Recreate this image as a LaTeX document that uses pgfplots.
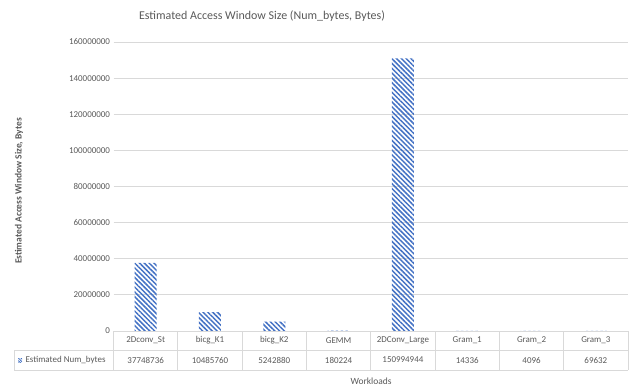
\documentclass[border=0pt]{standalone}
\usepackage{pgfplots}
\pgfplotsset{compat=1.18}
\usepackage{fontspec}
\setmainfont{Carlito}
\usetikzlibrary{patterns.meta}
\definecolor{barblue}{HTML}{4472C4}
\definecolor{txtgray}{HTML}{595959}
\definecolor{gridgray}{HTML}{D9D9D9}
\begin{document}
\begin{tikzpicture}[x=1bp,y=1bp]
\useasboundingbox (0,0) rectangle (639,388);
\begin{axis}[
  at={(113.5bp,57bp)}, anchor=south west,
  scale only axis, width=514.5bp, height=289bp,
  xmin=-0.5, xmax=7.5, ymin=0, ymax=160000000,
  ytick={0,20000000,...,160000000},
  scaled y ticks=false,
  yticklabel style={/pgf/number format/fixed,/pgf/number format/precision=0,/pgf/number format/1000 sep={},font=\fontsize{9}{10}\selectfont,text=txtgray},
  /pgf/number format/assume math mode=true,
  xtick=\empty,
  ymajorgrids, grid style={gridgray, line width=0.8bp},
  axis line style={draw=none},
  major tick length=0pt,
  ytick style={draw=none},
  clip=false,
]
\addplot[ybar, bar width=22bp, draw=none, pattern={Lines[angle=-45,distance=3.4bp,line width=1.5bp]}, pattern color=barblue]
 coordinates {(0,37748736) (1,10485760) (2,5242880) (3,180224) (4,150994944) (5,14336) (6,4096) (7,69632)};
\end{axis}
% title
\node[text=txtgray, font=\fontsize{12}{14}\selectfont] at (262,372) {Estimated Access Window Size (Num\_bytes, Bytes)};
% y label
\node[rotate=90, text=txtgray, font=\fontsize{9.5}{11}\bfseries\selectfont] at (19,197) {Estimated Access Window Size, Bytes};
% x label
\node[text=txtgray, font=\fontsize{9.5}{11}\selectfont] at (371,7) {Workloads};
% data table
\begin{scope}[draw=gridgray, line width=0.8bp]
\draw (113.5,57) -- (628,57);
\draw (14,38) -- (628,38);
\draw (14,18) -- (628,18);
\draw (14,38) -- (14,18);
\foreach \k in {0,...,8} { \draw (113.5+64.3125*\k,57) -- (113.5+64.3125*\k,18); }
\end{scope}
\foreach \n [count=\i from 0] in {2Dconv\_St,bicg\_K1,bicg\_K2,GEMM,2DConv\_Large,Gram\_1,Gram\_2,Gram\_3} {
  \node[text=txtgray, font=\fontsize{9}{10}\selectfont] at (113.5+64.3125*\i+32.16,47.5) {\n};
}
\foreach \v [count=\i from 0] in {37748736,10485760,5242880,180224,150994944,14336,4096,69632} {
  \node[text=txtgray, font=\fontsize{9}{10}\selectfont] at (113.5+64.3125*\i+32.16,28) {\v};
}
\fill[pattern={Lines[angle=-45,distance=1.8bp,line width=0.9bp]}, pattern color=barblue] (18,26) rectangle (22,30);
\node[text=txtgray, font=\fontsize{9}{10}\selectfont, anchor=west] at (22,28) {Estimated Num\_bytes};
\end{tikzpicture}
\end{document}
